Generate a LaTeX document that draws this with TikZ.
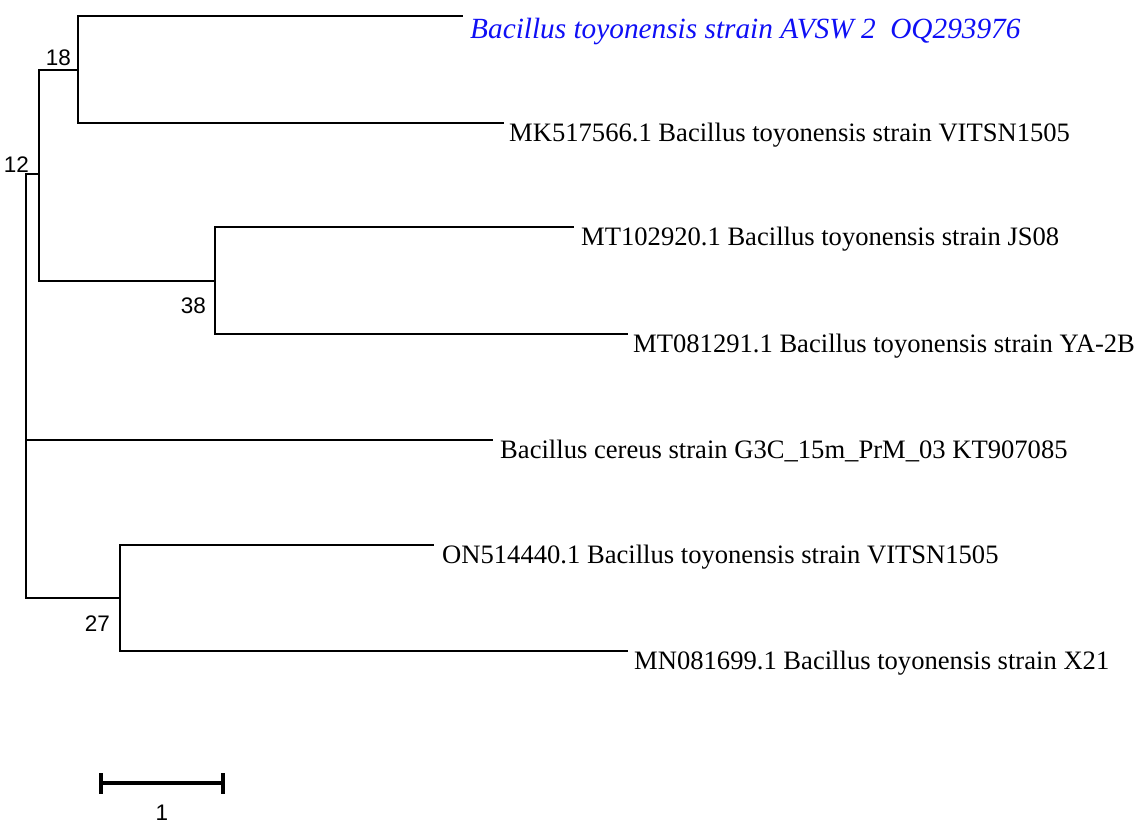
\documentclass[tikz,border=0pt]{standalone}
\usepackage{fontspec}
\setmainfont{Liberation Serif}
\newfontfamily\bootfont{Liberation Sans}
\usepackage{xcolor}
\usepackage{tikz}
\usetikzlibrary{positioning, calc}
\definecolor{querycol}{RGB}{15,15,245}
\tikzset{
    branch/.style={line width=1.8pt, line cap=rect},
    leaf/.style={anchor=base west, inner sep=0pt, font=\fontsize{26.6}{30}\selectfont},
    boot/.style={anchor=base east, inner sep=0pt, font=\bootfont\fontsize{22.5}{26}\selectfont}
}

\begin{document}
\begin{tikzpicture}[x=1pt, y=-1pt,
    query/.style={leaf, text=querycol, font=\fontsize{29.3}{34}\selectfont\itshape},
    scalebar/.style={line width=3.5pt}]

    \useasboundingbox (0,0) rectangle (1141,823);

    % internal nodes
    \coordinate (root) at (26,386);
    \coordinate (n12) at (39,174);
    \coordinate (n18) at (78,70);
    \coordinate (n38) at (215,281);
    \coordinate (n27) at (120,598);

    % branch tips
    \coordinate (t1) at (462,16);
    \coordinate (t2) at (503,123);
    \coordinate (t3) at (573,227);
    \coordinate (t4) at (627,334);
    \coordinate (t5) at (492,440);
    \coordinate (t6) at (433,545);
    \coordinate (t7) at (627,651);

    % taxa
    \node (l1) [query] at ($(t1)+(8,22)$) {Bacillus toyonensis strain AVSW 2\ \ OQ293976};
    \node (l2) [leaf] at ($(t2)+(6,18)$) {MK517566.1 Bacillus toyonensis strain VITSN1505};
    \node (l3) [leaf] at ($(t3)+(8,18)$) {MT102920.1 Bacillus toyonensis strain JS08};
    \node (l4) [leaf] at ($(t4)+(6,18)$) {MT081291.1 Bacillus toyonensis strain YA-2B};
    \node (l5) [leaf] at ($(t5)+(8,18)$) {Bacillus cereus strain G3C\_15m\_PrM\_03 KT907085};
    \node (l6) [leaf] at ($(t6)+(9,18)$) {ON514440.1 Bacillus toyonensis strain VITSN1505};
    \node (l7) [leaf] at ($(t7)+(7,18)$) {MN081699.1 Bacillus toyonensis strain X21};

    % tree
    \draw [branch] (root) |- (n12);
    \draw [branch] (root) |- (t5);
    \draw [branch] (root) |- (n27);
    \draw [branch] (n12) |- (n18);
    \draw [branch] (n12) |- (n38);
    \draw [branch] (n18) |- (t1);
    \draw [branch] (n18) |- (t2);
    \draw [branch] (n38) |- (t3);
    \draw [branch] (n38) |- (t4);
    \draw [branch] (n27) |- (t6);
    \draw [branch] (n27) |- (t7);

    % bootstrap values
    \node (b18) [boot] at ($(n18)+(-7,-5)$) {18};
    \node (b12) [boot] at ($(n12)+(-10,-2)$) {12};
    \node (b38) [boot] at ($(n38)+(-9,32)$) {38};
    \node (b27) [boot] at ($(n27)+(-10,33)$) {27};

    % scale
    \coordinate (s0) at (101,783);
    \coordinate (s1) at (223,783);
    \draw [scalebar] (s0) -- (s1);
    \draw [scalebar] ($(s0)+(0,-10)$) -- ($(s0)+(0,11)$);
    \draw [scalebar] ($(s1)+(0,-10)$) -- ($(s1)+(0,11)$);
    \node (sl) [boot, anchor=base] at ($(s0)!0.5!(s1)+(0,37)$) {1};
\end{tikzpicture}
\end{document}
